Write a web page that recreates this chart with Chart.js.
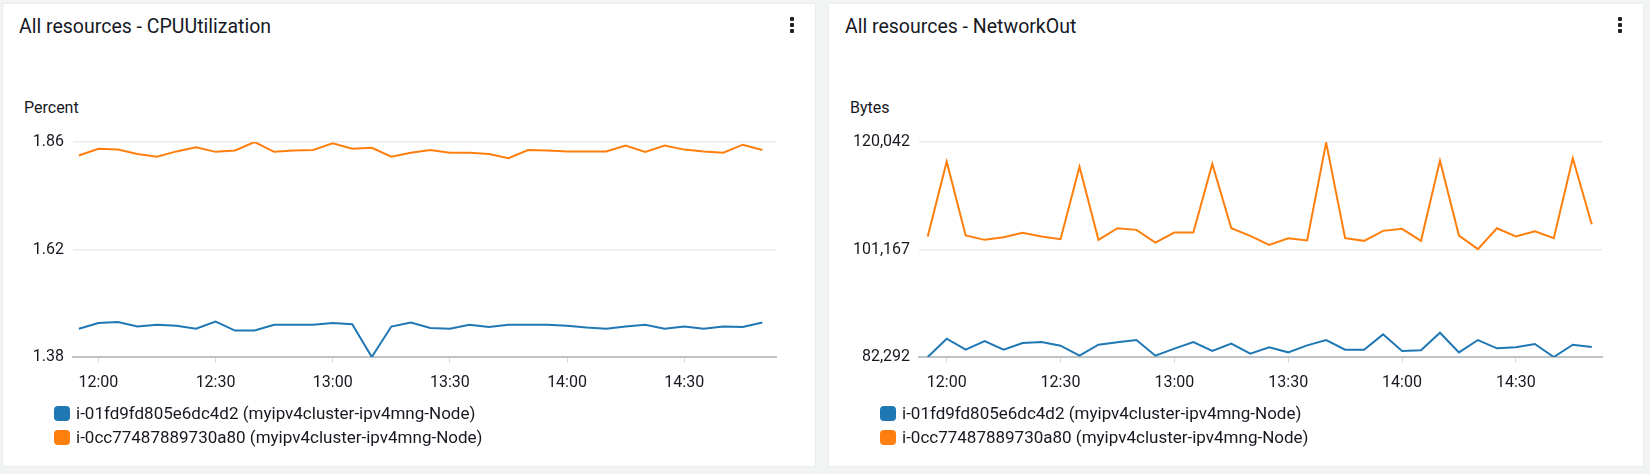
<!DOCTYPE html>
<html>
<head>
<meta charset="utf-8">
<script src="https://cdn.jsdelivr.net/npm/chart.js@4.4.1/dist/chart.umd.min.js"></script>
<style>
  body { margin: 0; width: 1650px; height: 474px; background: #f2f3f3; font-family: Roboto, sans-serif; color: #16191f; overflow: hidden; position: relative; }
  .card { position: absolute; top: 4px; height: 462px; background: #fff; box-shadow: 0 0 0 1px #eaeded; }
  .title { position: absolute; left: 16px; top: 13px; font-size: 19.5px; line-height: 20px; white-space: nowrap; }
  .kebab { position: absolute; right: 21px; top: 13px; width: 4px; }
  .kebab span { display: block; width: 4px; height: 4px; background: #232323; border-radius: 1px; margin-bottom: 2px; }
  .unit { position: absolute; left: 21px; top: 94px; font-size: 16px; line-height: 20px; }
  .card canvas { position: absolute; left: 0; top: 116px; }
  .legend { position: absolute; left: 51px; top: 397px; font-size: 17px; }
  .legend div { height: 24px; display: flex; align-items: center; white-space: nowrap; }
  .legend i { display: inline-block; width: 16px; height: 15px; border-radius: 4px; margin-right: 6px; }
</style>
</head>
<body>
<div class="card" style="left:3px; width:812px;">
  <div class="title">All resources - CPUUtilization</div>
  <div class="kebab"><span></span><span></span><span></span></div>
  <div class="unit">Percent</div>
  <canvas id="cpuChart" width="812" height="290"></canvas>
  <div class="legend" id="cpuLegend"></div>
</div>
<div class="card" style="left:829px; width:814px;">
  <div class="title">All resources - NetworkOut</div>
  <div class="kebab"><span></span><span></span><span></span></div>
  <div class="unit">Bytes</div>
  <canvas id="netChart" width="814" height="290"></canvas>
  <div class="legend" id="netLegend"></div>
</div>
<script>
const times = [
  '11:55', '12:00', '12:05', '12:10', '12:15', '12:20', '12:25', '12:30', '12:35', '12:40', '12:45', '12:50',
  '12:55', '13:00', '13:05', '13:10', '13:15', '13:20', '13:25', '13:30', '13:35', '13:40', '13:45', '13:50',
  '13:55', '14:00', '14:05', '14:10', '14:15', '14:20', '14:25', '14:30', '14:35', '14:40', '14:45', '14:50'
];
const xTickLabels = ['12:00', '12:30', '13:00', '13:30', '14:00', '14:30'];
const seriesNames = [
  'i-01fd9fd805e6dc4d2 (myipv4cluster-ipv4mng-Node)',
  'i-0cc77487889730a80 (myipv4cluster-ipv4mng-Node)'
];
const seriesColors = ['#1f77b4', '#ff7f0e'];

// CPUUtilization (Percent)
const cpuNodeA = [
  1.443, 1.456, 1.458, 1.448, 1.452, 1.450, 1.443, 1.459, 1.439, 1.439, 1.452, 1.452,
  1.452, 1.456, 1.453, 1.380, 1.448, 1.457, 1.445, 1.443, 1.452, 1.447, 1.452, 1.452,
  1.452, 1.450, 1.446, 1.443, 1.448, 1.452, 1.443, 1.448, 1.443, 1.448, 1.447, 1.457
];
const cpuNodeB = [
  1.830, 1.845, 1.843, 1.833, 1.827, 1.839, 1.848, 1.838, 1.841, 1.860, 1.838, 1.841,
  1.842, 1.857, 1.845, 1.847, 1.827, 1.836, 1.842, 1.836, 1.836, 1.833, 1.824, 1.842,
  1.841, 1.839, 1.839, 1.839, 1.852, 1.838, 1.852, 1.843, 1.839, 1.836, 1.854, 1.842
];
const cpuTicks = [1.38, 1.62, 1.86];

// NetworkOut (Bytes)
const netNodeA = [
  82292, 85506, 83578, 85097, 83578, 84746, 84922, 84279, 82526, 84454, 84863, 85272,
  82526, 83753, 84922, 83344, 84630, 82876, 83987, 83110, 84338, 85272, 83578, 83578,
  86266, 83344, 83461, 86558, 83110, 85272, 83812, 83987, 84571, 82292, 84454, 84045
];
const netNodeB = [
  103445, 116594, 103620, 102860, 103328, 104088, 103445, 102977, 115718, 102860, 104905, 104614,
  102393, 104146, 104146, 116185, 104905, 103560, 101984, 103153, 102744, 119925, 103153, 102685,
  104439, 104790, 102685, 116769, 103620, 101225, 104905, 103445, 104380, 103153, 117178, 105607
];
const netTicks = [82292, 101167, 120042];

const toMin = s => { const [h, m] = s.split(':').map(Number); return h * 60 + m; };
const fromMin = v => Math.floor(v / 60) + ':' + String(Math.round(v % 60)).padStart(2, '0');
const textColor = '#16191f';

function buildLegend(id) {
  const el = document.getElementById(id);
  seriesNames.forEach((name, i) => {
    const row = document.createElement('div');
    row.innerHTML = '<i style="background:' + seriesColors[i] + '"></i>' + name;
    el.appendChild(row);
  });
}

function buildChart(id, seriesA, seriesB, yTicks, fmt, xRange, axisWidth, padRight) {
  const ctx = document.getElementById(id).getContext('2d');
  return new Chart(ctx, {
    type: 'line',
    data: {
      datasets: [seriesA, seriesB].map((vals, i) => ({
        label: seriesNames[i],
        data: vals.map((v, j) => ({ x: toMin(times[j]), y: v })),
        borderColor: seriesColors[i],
        backgroundColor: seriesColors[i],
        borderWidth: 2,
        pointRadius: 0,
        tension: 0,
        fill: false
      }))
    },
    options: {
      responsive: false,
      animation: false,
      layout: { padding: { top: 22, right: padRight, left: 0, bottom: 0 } },
      plugins: { legend: { display: false }, tooltip: { enabled: false } },
      scales: {
        x: {
          type: 'linear',
          min: xRange[0],
          max: xRange[1],
          afterBuildTicks: s => { s.ticks = xTickLabels.map(t => ({ value: toMin(t) })); },
          afterFit: s => { s.height = 53; },
          ticks: { callback: v => fromMin(v), color: textColor, font: { family: 'Roboto', size: 16 }, padding: 10, maxRotation: 0, autoSkip: false },
          grid: { drawOnChartArea: false, drawTicks: true, tickLength: 6, tickColor: '#d5dbdb' },
          border: { display: true, color: '#bfc3c5', width: 2 }
        },
        y: {
          min: yTicks[0],
          max: yTicks[yTicks.length - 1],
          afterBuildTicks: s => { s.ticks = yTicks.map(v => ({ value: v })); },
          afterFit: s => { s.width = axisWidth; },
          ticks: { callback: fmt, color: textColor, font: { family: 'Roboto', size: 16 }, padding: 9 },
          grid: { drawTicks: false, color: c => c.index === 0 ? 'rgba(0,0,0,0)' : '#e9ebed', lineWidth: 1.5 },
          border: { display: false }
        }
      }
    }
  });
}

buildLegend('cpuLegend');
buildLegend('netLegend');
buildChart('cpuChart', cpuNodeA, cpuNodeB, cpuTicks, v => v.toFixed(2), [713.5, 893.5], 70, 39);
buildChart('netChart', netNodeA, netNodeB, netTicks, v => v.toLocaleString('en-US'), [712.7, 892.7], 90, 41);
</script>
</body>
</html>
